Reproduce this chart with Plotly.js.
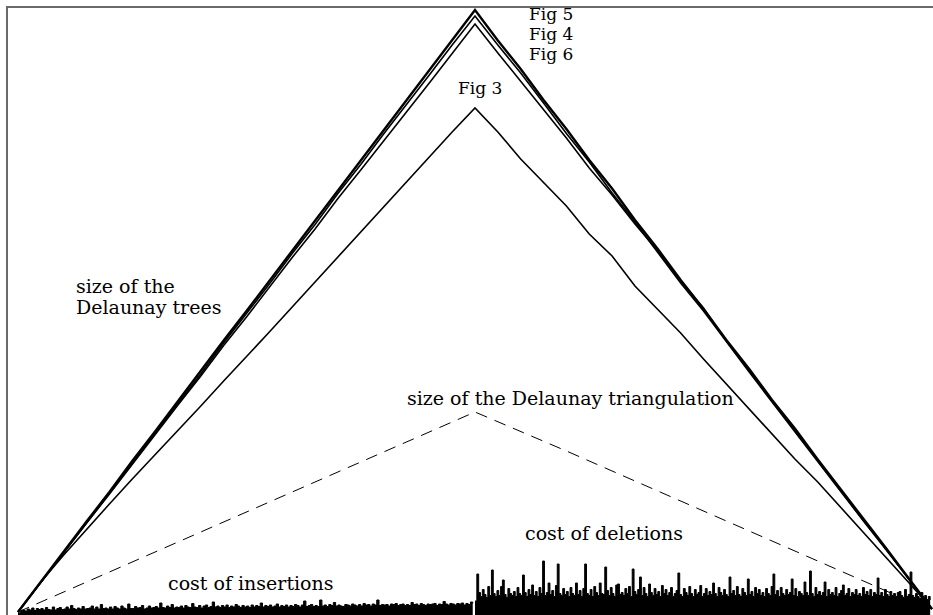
<!DOCTYPE html>
<html>
<head>
<meta charset="utf-8">
<script src="https://cdn.plot.ly/plotly-3.0.1.min.js"></script>
<style>html,body{margin:0;padding:0;background:#fff;}#chart{width:933px;height:615px;}</style>
</head>
<body>
<div id="chart"></div>
<script>
// Operation index: 0..1000 insertions, 1000..2000 deletions (step 50 for curves)
const curveX0 = 0, curveDX = 50;

const fig5 = [30,335,630,935,1230,1540,1835,2140,2435,2745,3040,3340,3645,3940,4250,4545,4850,5145,5450,5745,6050,
  5745,5460,5150,4860,4550,4265,3950,3660,3350,3060,2750,2460,2150,1865,1555,1260,955,665,360,60];

const fig6 = [30,330,620,920,1215,1520,1815,2115,2410,2720,3010,3310,3615,3905,4215,4505,4810,5100,5400,5700,5990,
  5700,5420,5120,4815,4530,4220,3930,3630,3320,3040,2730,2430,2130,1830,1540,1240,940,650,350,60];

const fig4 = [30,330,620,920,1210,1510,1800,2100,2390,2695,2980,3280,3575,3860,4165,4450,4745,5030,5320,5610,5910,
  5620,5340,5050,4770,4470,4200,3910,3640,3340,3070,2740,2440,2140,1845,1545,1250,945,655,355,60];

const fig3 = [30,330,600,860,1110,1360,1600,1850,2090,2340,2580,2830,3080,3330,3580,3840,4090,4340,4590,4830,5070,
  4830,4560,4320,4090,3810,3590,3290,3060,2820,2560,2310,2050,1800,1560,1330,1080,830,570,320,60];

// Size of the Delaunay triangulation
const triX = [0,200,400,600,800,1000,1200,1400,1600,1800,2000];
const triSize = [30,430,830,1235,1630,2030,1640,1240,840,440,40];

// Cost of insertions (step 5, from 0)
const insX0 = 0, insDX = 5;
const insCost = [
  20,35,50,40,60,50,70,45,65,55,
  65,50,75,55,50,80,50,65,75,55,
  60,80,60,95,65,55,70,60,85,60,
  65,70,90,60,80,60,105,65,70,60,
  80,60,85,70,60,90,70,60,110,65,
  65,85,70,75,95,60,70,90,70,75,
  85,70,120,75,70,90,75,105,70,80,
  75,90,70,95,80,75,115,80,75,95,
  70,90,100,75,85,130,80,90,75,95,
  80,100,75,90,80,105,90,75,95,80,
  90,75,100,80,95,85,120,80,95,85,
  100,80,90,110,80,95,85,100,80,95,
  85,105,95,80,100,140,85,95,105,85,
  95,85,150,90,100,85,105,95,125,90,
  100,90,85,105,100,90,110,100,90,105,
  90,115,100,105,90,110,100,150,95,105,
  100,105,90,110,105,115,95,105,110,95,
  105,95,125,105,110,95,115,105,95,110,
  105,110,115,95,110,105,135,110,100,115,
  110,100,115,110,120,100,115,105,130,115
];

// Cost of deletions (step 4, from 1000)
const delX0 = 1000, delDX = 4;
const delCost = [
  140,410,225,185,255,205,175,285,195,450,
  215,185,245,195,285,350,205,175,265,215,
  195,235,185,275,215,195,400,225,185,255,
  205,300,195,235,185,275,215,540,195,225,
  320,205,245,185,295,510,215,195,265,205,
  235,185,275,215,195,320,205,245,185,265,
  510,215,195,255,185,285,225,195,320,215,
  205,480,245,195,275,215,185,300,310,205,
  225,195,265,215,285,185,460,235,205,255,
  380,195,275,215,185,310,225,195,265,205,
  235,185,295,215,255,195,225,275,185,215,
  245,420,205,185,265,225,195,285,215,185,
  255,205,225,295,185,215,265,195,235,205,
  320,215,185,275,225,195,255,205,185,380,
  215,245,195,285,205,185,265,225,195,360,
  205,235,185,275,215,255,195,225,185,265,
  215,195,285,410,205,245,185,275,215,195,
  255,205,225,360,195,265,185,235,215,195,
  330,225,195,440,215,185,275,205,235,195,
  225,330,185,255,205,225,195,275,185,215,
  245,300,195,215,265,185,225,205,255,195,
  215,185,275,205,235,195,255,185,225,205,
  370,195,225,185,255,205,185,235,195,215,
  185,225,235,195,175,255,185,205,430,195,
  175,215,185,165,225,175,195,155,185,150
];

const figLabels = [
  {text:'Fig 5', x:1116, y:6010},
  {text:'Fig 4', x:1116, y:5810},
  {text:'Fig 6', x:1116, y:5610},
  {text:'Fig 3', x:961, y:5270}
];
const textLabels = [
  {text:'size of the', x:125, y:3290},
  {text:'Delaunay trees', x:125, y:3080},
  {text:'size of the Delaunay triangulation', x:849, y:2170},
  {text:'cost of deletions', x:1107, y:820},
  {text:'cost of insertions', x:326, y:320}
];

const black = '#000';
const traces = [
  {type:'scatter', mode:'lines', x0:insX0, dx:insDX, y:insCost, fill:'tozeroy', fillcolor:black, line:{color:black, width:1, shape:'hv'}, hoverinfo:'skip'},
  {type:'scatter', mode:'lines', x0:delX0, dx:delDX, y:delCost, fill:'tozeroy', fillcolor:black, line:{color:black, width:1, shape:'hv'}, hoverinfo:'skip'},
  {type:'scatter', mode:'lines', x:triX, y:triSize, line:{color:black, width:1, dash:'12px,8px'}},
  {type:'scatter', mode:'lines', x0:curveX0, dx:curveDX, y:fig3, line:{color:black, width:1.6}},
  {type:'scatter', mode:'lines', x0:curveX0, dx:curveDX, y:fig4, line:{color:black, width:1.6}},
  {type:'scatter', mode:'lines', x0:curveX0, dx:curveDX, y:fig6, line:{color:black, width:1.6}},
  {type:'scatter', mode:'lines', x0:curveX0, dx:curveDX, y:fig5, line:{color:black, width:2.4}}
];

function ann(l, size) {
  return {text:l.text, x:l.x, y:l.y, xref:'x', yref:'y', xanchor:'left', yanchor:'middle',
    showarrow:false, align:'left', font:{family:'DejaVu Serif, serif', size:size, color:'#000'}, borderpad:0};
}

const layout = {
  width:933, height:615,
  margin:{l:8, r:0, t:8, b:0, pad:0},
  paper_bgcolor:'#fff', plot_bgcolor:'#fff',
  showlegend:false,
  font:{family:'DejaVu Serif, serif', size:19, color:'#000'},
  xaxis:{range:[-21.9, 2002.2], side:'top', showline:true, linecolor:'#6a6a6a', linewidth:2, mirror:false,
         showgrid:false, zeroline:false, showticklabels:false, ticks:''},
  yaxis:{range:[0, 6070], showline:true, linecolor:'#6a6a6a', linewidth:2, mirror:false,
         showgrid:false, zeroline:false, showticklabels:false, ticks:''},
  annotations: figLabels.map(l => ann(l, 17)).concat(textLabels.map(l => ann(l, 19)))
};

Plotly.newPlot('chart', traces, layout, {staticPlot:true, displayModeBar:false});
</script>
</body>
</html>
